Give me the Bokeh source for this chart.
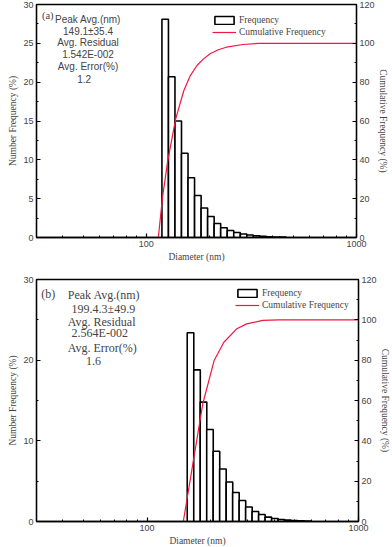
from bokeh.plotting import figure
from bokeh.models import (Range1d, LinearAxis, FixedTicker, NumeralTickFormatter,
                          Label, Legend, LegendItem, ColumnDataSource)
from bokeh.layouts import column
from bokeh.embed import file_html
from bokeh.resources import INLINE

# ---------------- data ----------------
x_major = [100, 1000]
x_minor = [30, 40, 50, 60, 70, 80, 90, 200, 300, 400, 500, 600, 700, 800, 900]

# panel (a)
a_diameter = [122.9, 132.0, 141.8, 152.3, 163.6, 175.8, 188.8, 202.8, 217.8, 234.0,
              251.4, 270.0, 290.1, 311.6, 334.7, 359.6, 386.4, 415.0, 445.9]
a_freq = [28.1, 20.7, 15.0, 10.85, 7.7, 5.4, 3.8, 2.7, 1.8, 1.25,
          0.9, 0.64, 0.45, 0.33, 0.22, 0.15, 0.10, 0.07, 0.05]
a_cum_diameter = [114, 119.4, 126.1, 137.8, 150.8, 161.9, 174.1, 187, 201, 219.9, 240.4, 287.7, 343, 1000]
a_cum = [0, 20.8, 38.8, 61, 75.7, 83.4, 88.6, 92.0, 94.6, 96.7, 98, 99.4, 100, 100]
a_left_ticks = [0, 5, 10, 15, 20, 25, 30]
a_left_minor = [2.5, 7.5, 12.5, 17.5, 22.5, 27.5]
a_text = ["Peak Avg.(nm)", "149.1\u00b135.4", "Avg. Residual", "1.542E-002", "Avg. Error(%)", "1.2"]

# panel (b)
b_diameter = [160.5, 172.3, 184.9, 198.4, 212.9, 228.5, 245.3, 263.2, 282.5, 303.2,
              325.3, 349.2, 374.8, 402.2, 431.7, 463.4, 497.3, 533.8, 572.8]
b_freq = [23.4, 18.8, 14.8, 11.4, 8.7, 6.5, 4.9, 3.6, 2.6, 1.8,
          1.24, 0.87, 0.54, 0.37, 0.25, 0.17, 0.12, 0.08, 0.05]
b_cum_diameter = [148.4, 162.1, 174.0, 183.5, 207.6, 230.8, 266, 295.8, 352.5, 420.7, 1000]
b_cum = [0, 24.2, 43.8, 58.4, 79.8, 88.9, 95.6, 98, 99.7, 100, 100]
b_left_ticks = [0, 10, 20, 30]
b_left_minor = [5, 15, 25]
b_text = ["Peak Avg.(nm)", "199.4.3\u00b149.9", "Avg. Residual", "2.564E-002", "Avg. Error(%)", "1.6"]

right_ticks = [0, 20, 40, 60, 80, 100, 120]
right_minor = [10, 30, 50, 70, 90, 110]

# ---------------- style ----------------
SANS = "Liberation Sans"
SERIF = "Liberation Serif"
RED = "#f01840"
XMIN, XMAX = 30, 1000
BIN_HALF = 10 ** (0.031 / 2)


def fx(f):
    return XMIN * (XMAX / XMIN) ** f


def style_axis(ax, major, minor, label_standoff=2, tick_standoff=3):
    ax.ticker = FixedTicker(ticks=major, minor_ticks=minor)
    ax.major_tick_in = 4
    ax.major_tick_out = 0
    ax.minor_tick_in = 2
    ax.minor_tick_out = 0
    ax.axis_line_width = 1.3
    ax.major_tick_line_width = 1.2
    ax.minor_tick_line_width = 1.0
    ax.major_label_text_font = SANS
    ax.major_label_text_font_size = "9px"
    ax.major_label_standoff = tick_standoff
    ax.axis_label_text_font = SERIF
    ax.axis_label_text_font_size = "9.5px"
    ax.axis_label_text_font_style = "normal"
    ax.axis_label_standoff = label_standoff


def panel(diam, freq, cum_d, cum, ymax, lt, lm, frame_w, frame_h, bleft, btop, bbot,
          tag, tag_pos, tag_size, texts, text_pos, align, tfont, tsize, leg_xy):
    p = figure(x_axis_type="log", x_range=Range1d(XMIN, XMAX), y_range=Range1d(0, ymax),
               frame_width=frame_w, frame_height=frame_h, output_backend="svg",
               toolbar_location=None, min_border_left=bleft, min_border_right=36,
               min_border_top=btop, min_border_bottom=bbot)
    p.grid.visible = False
    p.outline_line_color = "black"
    p.outline_line_width = 1.3
    p.background_fill_color = "white"
    p.extra_y_ranges = {"cum": Range1d(0, 120)}

    src = ColumnDataSource(dict(l=[d / BIN_HALF for d in diam], r=[d * BIN_HALF for d in diam],
                                t=freq, b=[0] * len(freq)))
    bars = p.quad(left="l", right="r", top="t", bottom="b", source=src,
                  fill_color="white", line_color="black", line_width=1.6)
    ln = p.line(cum_d, cum, y_range_name="cum", line_color=RED, line_width=1.2)

    style_axis(p.xaxis[0], x_major, x_minor)
    p.xaxis[0].formatter = NumeralTickFormatter(format="0")
    p.xaxis[0].axis_label = "Diameter (nm)"
    style_axis(p.yaxis[0], lt, lm)
    p.yaxis[0].axis_label = "Number Frequency (%)"

    rax = LinearAxis(y_range_name="cum", axis_label="Cumulative Frequency (%)")
    style_axis(rax, right_ticks, right_minor, label_standoff=0, tick_standoff=3)
    p.add_layout(rax, "right")

    p.add_layout(Label(x=fx(tag_pos[0]), y=tag_pos[1] * ymax, text=tag, text_font=SERIF,
                       text_font_size=tag_size, text_align="left", text_baseline="middle"))
    for t, (xx, yy) in zip(texts, text_pos):
        p.add_layout(Label(x=fx(xx), y=yy * ymax, text=t, text_font=tfont,
                           text_font_size=tsize, text_align=align, text_baseline="middle"))

    leg = Legend(items=[LegendItem(label="Frequency", renderers=[bars]),
                        LegendItem(label="Cumulative Frequency", renderers=[ln])],
                 location=leg_xy, padding=0, margin=0, spacing=0,
                 label_text_font=SERIF, label_text_font_size="9.5px",
                 label_height=12, glyph_height=10, glyph_width=24, label_standoff=3,
                 border_line_alpha=0, background_fill_alpha=0)
    p.add_layout(leg)
    return p


a_pos = [(0.161, 0.936), (0.161, 0.884), (0.161, 0.837), (0.161, 0.785), (0.161, 0.734), (0.149, 0.682)]
b_pos = [(0.097, 0.938), (0.109, 0.880), (0.097, 0.826), (0.109, 0.777), (0.097, 0.715), (0.154, 0.665)]

pa = panel(a_diameter, a_freq, a_cum_diameter, a_cum, 30, a_left_ticks, a_left_minor,
           320, 233, 36, 4, 30, "(a)", (0.017, 0.953), "10.5px", a_text, a_pos, "center",
           SANS, "10px", (176, 199))
pb = panel(b_diameter, b_freq, b_cum_diameter, b_cum, 30, b_left_ticks, b_left_minor,
           322, 242, 33, 12, 26, "(b)", (0.015, 0.942), "12px", b_text, b_pos, "left",
           SERIF, "12px", (199, 210))

layout = column(pa, pb)
open("out.html", "w").write(file_html(layout, INLINE))
